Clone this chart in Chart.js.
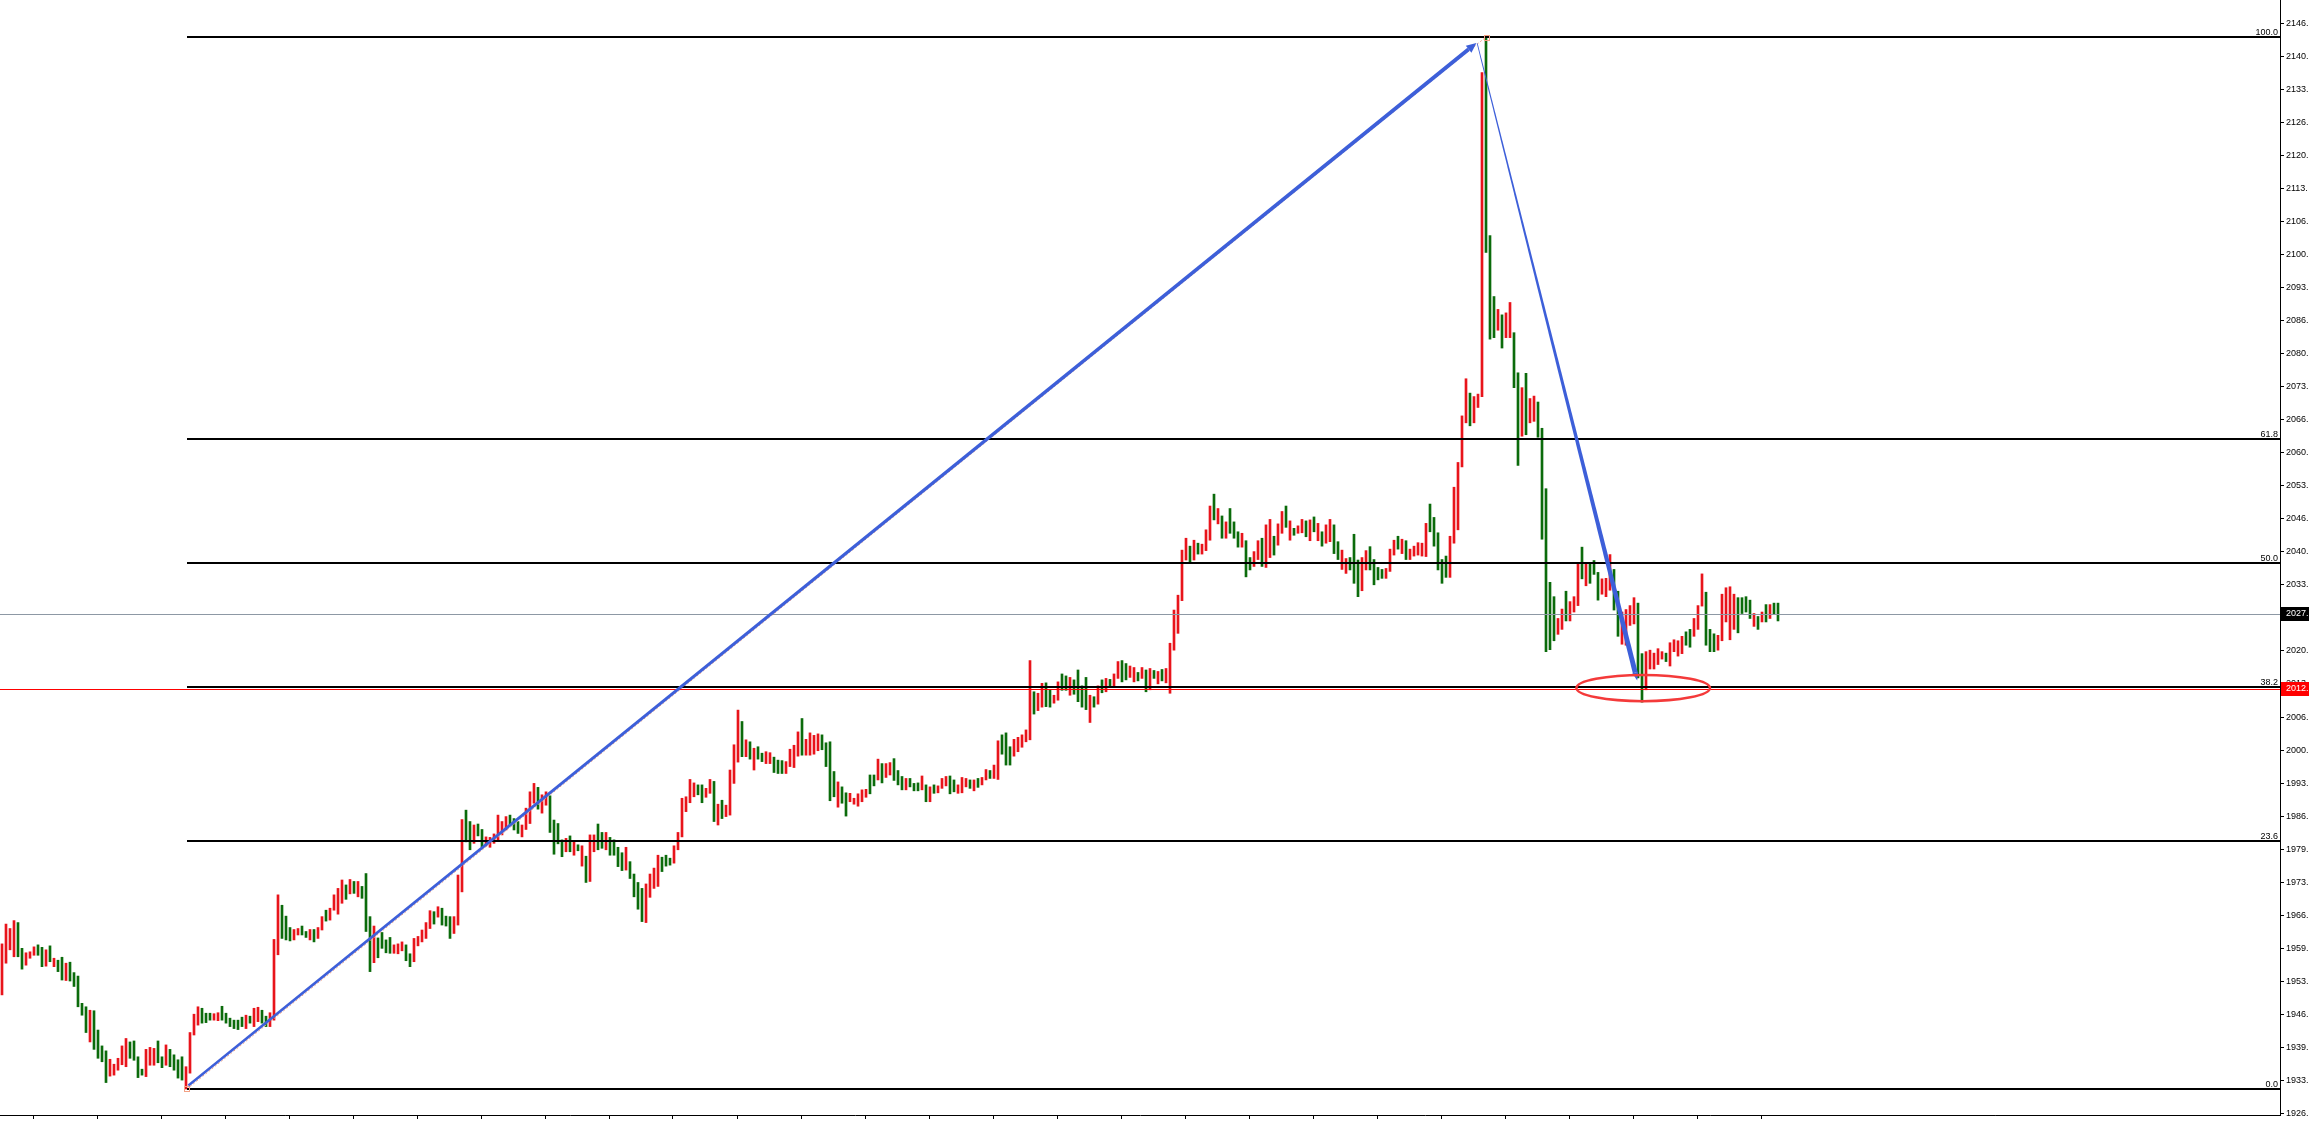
<!DOCTYPE html>
<html><head><meta charset="utf-8">
<script src="https://cdn.jsdelivr.net/npm/chart.js@4.4.1/dist/chart.umd.min.js"></script>
<style>html,body{margin:0;padding:0;background:#fff;overflow:hidden}canvas{display:block}</style>
</head><body>
<canvas id="c" width="2309" height="1122"></canvas>
<script>
// ---- data (one entry per bar) ----
const highs = [
1960.8,1964.8,1963.9,1965.5,1965.1,1959.9,1959.0,1959.2,1960.2,1960.6,
1960.1,1959.6,1960.4,1957.9,1957.5,1958.1,1956.9,1957.1,1955.0,1954.3,
1948.8,1948.1,1947.4,1947.3,1943.4,1940.2,1939.2,1937.5,1936.5,1937.7,
1940.2,1941.7,1941.0,1941.2,1938.0,1935.5,1939.5,1939.9,1939.7,1941.2,
1938.0,1940.4,1939.5,1938.4,1937.4,1938.0,1936.0,1942.9,1946.6,1948.1,
1947.8,1946.8,1946.8,1946.7,1946.9,1948.2,1946.8,1945.8,1945.4,1945.4,
1946.0,1946.4,1946.2,1947.8,1948.0,1947.4,1946.2,1946.9,1961.7,1970.7,
1968.6,1966.4,1964.1,1963.7,1963.9,1964.4,1963.3,1963.7,1963.7,1964.1,
1966.3,1967.6,1968.0,1970.7,1972.0,1973.7,1972.7,1973.8,1973.4,1973.4,
1972.4,1975.0,1966.3,1964.4,1962.0,1963.1,1961.6,1962.1,1960.6,1960.8,
1961.2,1960.6,1958.8,1961.9,1962.3,1963.6,1965.1,1967.5,1967.3,1968.3,
1968.0,1966.4,1966.3,1966.3,1974.7,1985.9,1987.8,1985.5,1984.8,1985.0,
1983.9,1982.4,1982.3,1983.0,1986.8,1985.5,1986.5,1986.8,1986.1,1985.5,
1984.8,1988.2,1991.5,1993.2,1992.4,1990.9,1991.5,1990.7,1985.8,1985.1,
1981.8,1982.1,1982.6,1981.4,1980.8,1980.6,1978.5,1982.8,1982.8,1985.0,
1983.3,1983.3,1982.3,1981.8,1980.3,1979.2,1980.3,1977.4,1974.9,1973.2,
1972.0,1972.9,1974.9,1976.1,1978.7,1978.3,1978.7,1978.1,1980.6,1983.3,
1990.2,1990.5,1994.0,1993.3,1992.9,1992.9,1992.2,1994.0,1993.6,1989.0,
1989.8,1988.8,1995.9,2001.0,2008.0,2005.7,2002.0,2001.6,2000.3,2000.6,
1999.3,1999.6,1999.4,1998.5,1997.9,1997.8,1997.6,2000.1,2000.9,2003.6,
2006.3,2002.1,2003.4,2002.9,2003.2,2003.0,2001.4,2001.6,1995.6,1993.5,
1992.5,1991.3,1991.2,1990.2,1991.1,1991.9,1992.0,1994.9,1994.9,1998.1,
1997.2,1997.2,1997.4,1998.2,1995.8,1994.6,1994.2,1994.2,1993.2,1993.3,
1994.7,1992.9,1992.5,1992.9,1992.7,1994.2,1994.6,1994.7,1993.9,1992.9,
1994.4,1994.2,1993.9,1993.9,1994.2,1994.4,1996.0,1995.8,1996.9,2001.8,
2003.0,2003.4,2000.6,2002.1,2002.5,2003.0,2004.0,2018.0,2011.7,2011.4,
2013.4,2013.5,2012.1,2011.0,2013.7,2015.3,2014.9,2014.6,2014.1,2016.1,
2012.9,2014.6,2011.0,2010.7,2012.9,2014.1,2014.4,2014.2,2015.3,2017.8,
2018.0,2017.4,2016.9,2016.6,2015.6,2016.6,2016.1,2016.4,2016.0,2015.8,
2016.2,2016.4,2021.5,2028.2,2031.2,2040.3,2042.7,2041.1,2042.3,2041.7,
2041.5,2044.4,2049.2,2051.6,2048.7,2047.2,2046.0,2048.7,2046.0,2044.0,
2043.7,2042.2,2038.8,2040.0,2042.2,2042.7,2045.4,2046.5,2043.1,2045.6,
2048.1,2049.2,2046.2,2044.7,2045.2,2046.5,2046.2,2046.4,2047.0,2045.7,
2044.0,2045.4,2046.5,2045.4,2042.0,2040.3,2038.6,2038.8,2043.5,2038.3,
2038.8,2040.2,2041.0,2038.4,2036.8,2036.4,2036.6,2040.5,2042.3,2043.1,
2042.5,2042.2,2040.5,2041.1,2041.8,2041.7,2045.7,2049.6,2046.9,2043.8,
2038.4,2039.1,2043.1,2053.0,2058.0,2067.4,2074.9,2072.0,2071.3,2071.8,
2136.7,2143.9,2103.8,2091.5,2088.9,2087.8,2088.2,2090.3,2084.2,2076.1,
2073.1,2076.0,2070.9,2071.4,2070.2,2064.9,2052.7,2033.8,2030.9,2026.5,
2028.4,2032.0,2029.9,2030.9,2037.8,2040.9,2037.8,2037.6,2038.2,2035.8,
2034.5,2034.6,2039.4,2036.4,2032.0,2027.8,2028.3,2029.1,2030.7,2029.6,
2019.4,2019.8,2020.1,2019.5,2020.4,2019.8,2019.5,2021.6,2022.2,2022.0,
2022.9,2023.8,2024.3,2026.5,2029.1,2035.5,2031.8,2024.3,2023.4,2023.1,
2031.4,2032.7,2032.9,2031.4,2030.7,2030.7,2030.9,2030.2,2027.5,2026.9,
2027.8,2029.3,2029.3,2029.6,2029.6
];
const lows = [
1950.5,1956.9,1959.6,1958.2,1958.2,1955.7,1956.5,1957.9,1958.5,1958.5,
1956.2,1956.3,1957.2,1956.2,1955.2,1953.5,1953.4,1953.3,1952.2,1948.1,
1946.4,1942.9,1941.0,1939.5,1937.7,1937.0,1932.8,1934.1,1934.3,1935.3,
1936.4,1936.0,1937.7,1937.3,1933.8,1934.3,1934.0,1936.3,1936.3,1936.8,
1935.8,1936.3,1936.0,1935.3,1933.7,1933.3,1931.5,1934.7,1942.4,1944.4,
1944.8,1944.9,1945.4,1945.4,1945.3,1945.4,1944.8,1944.1,1943.7,1943.5,
1944.1,1943.7,1944.8,1944.1,1945.1,1944.8,1944.1,1944.1,1945.4,1958.6,
1961.9,1961.6,1961.4,1961.6,1962.6,1962.6,1962.1,1961.6,1961.2,1961.9,
1963.6,1965.4,1965.6,1967.6,1966.8,1969.0,1969.8,1970.9,1971.0,1970.3,
1970.0,1963.3,1955.2,1957.0,1958.0,1959.9,1959.0,1958.9,1958.9,1958.8,
1959.4,1957.4,1956.2,1957.2,1960.4,1961.2,1961.9,1963.9,1964.8,1966.2,
1964.6,1964.4,1961.9,1962.9,1964.6,1971.3,1981.4,1979.8,1981.1,1982.6,
1980.4,1980.6,1980.3,1981.1,1981.8,1982.8,1983.8,1984.8,1983.8,1983.1,
1982.4,1983.9,1985.1,1989.2,1988.0,1987.2,1988.8,1983.3,1978.9,1981.0,
1978.4,1979.4,1979.4,1978.7,1979.6,1976.5,1973.2,1973.4,1979.4,1979.8,
1980.1,1979.8,1978.7,1978.7,1976.4,1975.6,1975.7,1974.0,1970.3,1967.8,
1965.3,1965.1,1970.2,1972.0,1972.4,1975.4,1976.5,1976.7,1977.1,1979.8,
1982.4,1987.5,1989.3,1990.5,1990.9,1989.3,1990.4,1991.2,1985.5,1984.8,
1986.1,1986.5,1986.8,1993.2,1997.5,1998.6,1998.6,1998.1,1995.9,1998.1,
1997.6,1997.2,1997.2,1995.4,1995.2,1995.2,1995.2,1996.6,1996.4,1998.7,
1998.9,1998.9,1998.9,1999.1,1999.8,2000.0,1996.6,1989.7,1990.5,1988.4,
1989.2,1986.6,1989.5,1989.0,1988.6,1989.5,1990.4,1991.1,1992.7,1993.9,
1993.3,1994.4,1994.9,1993.8,1992.9,1991.9,1991.9,1992.5,1991.7,1991.7,
1991.9,1989.5,1989.5,1991.2,1991.3,1992.2,1992.7,1991.1,1991.5,1991.2,
1991.3,1992.5,1992.2,1991.7,1992.4,1992.9,1993.9,1994.2,1994.2,1994.0,
1999.1,1996.9,1996.9,1998.7,1999.6,2000.5,2001.6,2002.0,2007.2,2007.9,
2008.6,2008.7,2008.6,2009.4,2010.0,2012.0,2012.0,2011.0,2011.2,2009.7,
2008.6,2008.1,2005.5,2008.6,2009.2,2011.5,2011.7,2012.9,2012.7,2014.4,
2013.7,2014.1,2014.6,2013.7,2013.9,2014.4,2011.7,2012.1,2014.4,2013.3,
2013.9,2013.5,2011.4,2020.1,2023.5,2030.1,2038.3,2037.8,2038.3,2039.5,
2039.5,2040.2,2042.3,2046.4,2045.6,2042.7,2042.7,2043.7,2042.7,2040.9,
2040.9,2034.9,2036.3,2037.0,2038.4,2037.0,2036.8,2038.8,2039.3,2041.3,
2043.7,2044.9,2042.3,2043.3,2043.7,2043.8,2043.0,2042.2,2044.0,2042.2,
2041.1,2041.7,2042.0,2039.6,2038.4,2036.4,2035.6,2036.3,2033.6,2030.9,
2032.1,2036.3,2036.3,2033.3,2034.3,2034.6,2034.6,2036.0,2039.3,2040.5,
2039.6,2038.4,2038.4,2039.1,2039.3,2039.1,2039.0,2044.0,2041.1,2036.3,
2033.6,2034.8,2034.8,2041.7,2044.4,2057.1,2066.0,2065.4,2066.0,2069.1,
2071.3,2100.4,2082.9,2083.2,2084.7,2081.1,2083.2,2083.2,2073.1,2057.4,
2063.3,2063.6,2066.0,2066.3,2063.1,2042.5,2019.8,2020.2,2022.0,2023.3,
2024.3,2026.0,2026.0,2027.8,2029.1,2034.5,2033.1,2033.6,2035.4,2030.2,
2031.4,2030.9,2032.2,2028.2,2022.9,2021.3,2021.1,2025.1,2025.4,2014.5,
2009.6,2012.1,2016.3,2016.3,2017.2,2018.3,2017.8,2016.9,2019.8,2018.9,
2019.4,2021.1,2020.7,2022.9,2024.3,2029.0,2021.1,2019.8,2019.8,2020.1,
2022.0,2025.8,2022.2,2024.3,2023.6,2027.5,2027.8,2026.5,2024.9,2024.3,
2025.8,2025.8,2026.5,2027.4,2026.0
];
// r = rising bar (red), g = falling bar (green)
const barDir = (
"rrrrggrrrg"+"grgrggrggg"+"ggrggggrrr"+"rrggggrrrg"+"grggggrrrr"+
"gggrrggggg"+"grgrrggrrr"+"gggrrggrgr"+"rgrrrrgrgr"+"gggrgggg" +"rr"+
"rggrrrrrgr"+"gggrrrggrg"+"grrrrrrggg"+"rrrrgrrggg"+"grgrgrgrrg"+
"grggggrggg"+"grrrrgggrr"+"rrrrggrrgr"+"grrrrgrgrg"+"grrgggrrrr"+
"grrrrggggr"+"ggrrrrrggr"+"grrgggrggg"+"rgrgrrrggr"+"rrgrgrrgrr"+
"gggrrrrrgr"+"rggrrggrgg"+"ggrgrgrgrr"+"ggrrgrgrgr"+"grrrrrrgrg"+
"rrrgrgrggg"+"rggrrgrrgr"+"rgrgrrgrgr"+"grrggrrggg"+"rrggggrrrg"+
"rgrrrrrggg"+"ggrrrrrgrr"+"rgggrgrrgg"+"rgrrgggggr"+"rgrrrgrggg"+
"rrrggrrrrg"+"grrrrrgrrr"+"rggrrrgggr"+"rrrrggggrg"+"rgrgg").split('');
// right-axis tick labels, bottom to top
const yTickLabels = ['1926.','1933.','1939.','1946.','1953.','1959.','1966.','1973.','1979.','1986.',
 '1993.','2000.','2006.','2013.','2020.','2026.','2033.','2040.','2046.','2053.',
 '2060.','2066.','2073.','2080.','2086.','2093.','2100.','2106.','2113.','2120.',
 '2126.','2133.','2140.','2146.'];
const fibRatios = [0, 23.6, 38.2, 50, 61.8, 100];
const fibLabels = ['0.0', '23.6', '38.2', '50.0', '61.8', '100.0'];
const fibLowIndex = 46, fibHighIndex = 371;
const bidPrice = 2027.4, bidLabel = '2027.';
const hLinePrice = 2012.3, hLineLabel = '2012.';
// annotation anchors (bar index, price)
const arrowUp = [46.6, 1932.2, 368.6, 2142.7];
const arrowDown = [368.8, 2142.6, 408.8, 2014.0];
const ellipseBox = [393.6, 2015.1, 427.0, 2009.8];

// ---- chart ----
const RED = '#e8141b', GREEN = '#0b6b0b';
const FONT = 'Liberation Sans, Arial, sans-serif';
const yMin = 1926.25, yMax = 2151.37;
const yStep = (2146.6 - 1926.6) / 33;

const overlay = {
  id: 'overlay',
  afterDatasetsDraw(chart) {
    const {ctx, chartArea: ca, scales: {x, y}} = chart;
    const px = v => x.getPixelForValue(v), py = v => y.getPixelForValue(v);
    ctx.save();
    const hline = (x0, x1, yy, w, col) => {
      ctx.strokeStyle = col; ctx.lineWidth = w;
      const yv = w % 2 ? Math.round(yy) + 0.5 : Math.round(yy);
      ctx.beginPath(); ctx.moveTo(x0, yv); ctx.lineTo(x1, yv); ctx.stroke();
    };
    // bid line & red horizontal line
    hline(ca.left, ca.right, py(bidPrice), 1, '#8d98a4');
    // fibonacci
    const fLo = lows[fibLowIndex], fHi = highs[fibHighIndex];
    const fx0 = px(fibLowIndex) + 1;
    ctx.setLineDash([2, 2]);
    ctx.strokeStyle = '#f3a184'; ctx.lineWidth = 1;
    ctx.beginPath(); ctx.moveTo(fx0, py(fLo)); ctx.lineTo(px(fibHighIndex), py(fHi)); ctx.stroke();
    ctx.setLineDash([]);
    ctx.font = '9px ' + FONT; ctx.textAlign = 'right'; ctx.textBaseline = 'alphabetic'; ctx.fillStyle = '#000';
    fibRatios.forEach((r, i) => {
      const yy = py(fLo + r / 100 * (fHi - fLo));
      hline(fx0, ca.right, yy, 2, '#000');
      ctx.fillText(fibLabels[i], ca.right - 2, Math.round(yy) - 2);
    });
    hline(ca.left, ca.right, py(hLinePrice), 1, '#ff0000');
    // anchor squares
    ctx.strokeStyle = '#f3a184'; ctx.lineWidth = 1;
    ctx.strokeRect(Math.round(fx0) - 2.5, Math.round(py(fLo)) - 2.5, 5, 5);
    ctx.strokeRect(Math.round(px(fibHighIndex)) - 1.5, Math.round(py(fHi)) - 1.5, 5, 5);
    // tapered arrows
    const arrow = (a, w0, w1, hl, hw) => {
      const x0 = px(a[0]), y0 = py(a[1]), x1 = px(a[2]), y1 = py(a[3]);
      const dx = x1 - x0, dy = y1 - y0, L = Math.hypot(dx, dy);
      const ux = dx / L, uy = dy / L, nx = -uy, ny = ux;
      const bx = x1 - ux * hl, by = y1 - uy * hl;
      ctx.fillStyle = '#3d5fd9';
      ctx.beginPath();
      ctx.moveTo(x0 + nx * w0 / 2, y0 + ny * w0 / 2);
      ctx.lineTo(bx + nx * w1 / 2, by + ny * w1 / 2);
      ctx.lineTo(bx - nx * w1 / 2, by - ny * w1 / 2);
      ctx.lineTo(x0 - nx * w0 / 2, y0 - ny * w0 / 2);
      ctx.closePath(); ctx.fill();
      ctx.beginPath();
      ctx.moveTo(x1, y1);
      ctx.lineTo(bx + nx * hw / 2, by + ny * hw / 2);
      ctx.lineTo(bx - nx * hw / 2, by - ny * hw / 2);
      ctx.closePath(); ctx.fill();
    };
    arrow(arrowUp, 2.4, 4, 10, 9);
    arrow(arrowDown, 0.8, 5, 8, 6);
    // ellipse
    const ex0 = px(ellipseBox[0]), ey0 = py(ellipseBox[1]), ex1 = px(ellipseBox[2]), ey1 = py(ellipseBox[3]);
    ctx.strokeStyle = '#f43a3a'; ctx.lineWidth = 2.5;
    ctx.beginPath();
    ctx.ellipse((ex0 + ex1) / 2, (ey0 + ey1) / 2, (ex1 - ex0) / 2, (ey1 - ey0) / 2, 0, 0, Math.PI * 2);
    ctx.stroke();
    // axis price boxes
    const box = (price, label, bg) => {
      const yy = Math.round(py(price));
      ctx.fillStyle = bg; ctx.fillRect(ca.right + 1, yy - 7, chart.width - ca.right - 1, 14);
      ctx.fillStyle = '#fff'; ctx.textAlign = 'left'; ctx.textBaseline = 'middle';
      ctx.font = '9px ' + FONT;
      ctx.fillText(label, ca.right + 6, yy);
    };
    box(bidPrice, bidLabel, '#000');
    box(hLinePrice, hLineLabel, '#ff0000');
    ctx.restore();
  }
};

new Chart(document.getElementById('c'), {
  type: 'bar',
  data: {
    datasets: [{
      data: highs.map((h, i) => ({x: i, y: [lows[i], h]})),
      backgroundColor: barDir.map(c => c === 'r' ? RED : GREEN),
      borderWidth: 0,
      barThickness: 2,
      grouped: false
    }]
  },
  options: {
    responsive: false, animation: false, devicePixelRatio: 1, events: [],
    layout: {padding: 0},
    plugins: {legend: {display: false}, tooltip: {enabled: false}},
    scales: {
      x: {
        type: 'linear', position: 'bottom', min: -0.5, max: 569.5, offset: false,
        grid: {offset: false, drawOnChartArea: false, drawTicks: true, tickLength: 4, color: '#000'},
        border: {display: true, color: '#000'},
        ticks: {display: false, autoSkip: false},
        afterBuildTicks: s => { s.ticks = Array.from({length: 28}, (_, k) => ({value: 7.75 + 16 * k})); },
        afterFit: s => { s.height = 7; s.paddingLeft = 0; s.paddingRight = 0; }
      },
      y: {
        type: 'linear', position: 'right', min: yMin, max: yMax,
        grid: {drawOnChartArea: false, drawTicks: true, tickLength: 4, color: '#000'},
        border: {display: true, color: '#000'},
        ticks: {autoSkip: false, padding: 2, color: '#000', font: {family: FONT, size: 9},
                callback: (v, i) => yTickLabels[i]},
        afterBuildTicks: s => { s.ticks = yTickLabels.map((_, i) => ({value: 1926.6 + i * yStep})); },
        afterFit: s => { s.width = 29; s.paddingTop = 0; s.paddingBottom = 0; }
      }
    }
  },
  plugins: [overlay]
});
</script>
</body></html>
